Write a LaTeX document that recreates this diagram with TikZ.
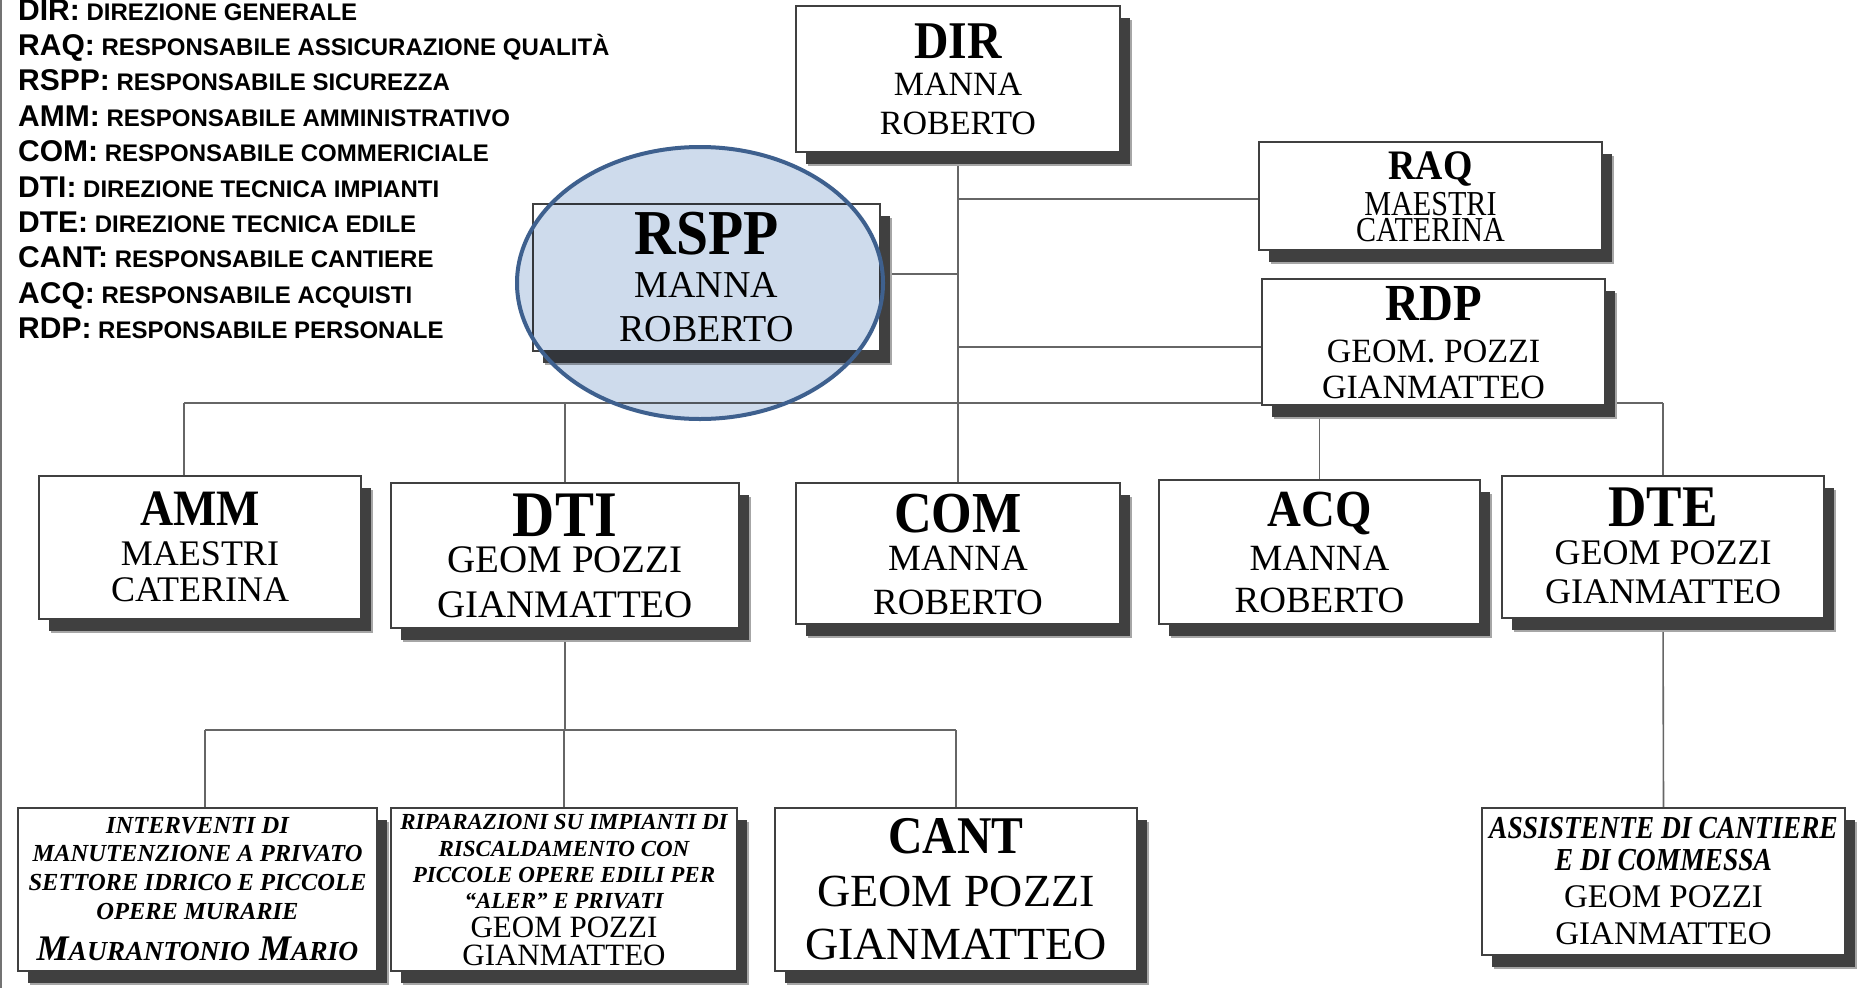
\documentclass[tikz,border=0pt]{standalone}
\usepackage{fontspec}
\setmainfont{Liberation Serif}
\newfontfamily\titlefam{Liberation Serif}[FakeStretch=0.9]
\newfontfamily\condfam{Liberation Serif}[FakeStretch=0.86]
\newfontfamily\legendfam{Liberation Sans}
\usetikzlibrary{shadows,backgrounds}
\pgfdeclarelayer{lines}
\pgfsetlayers{background,lines,main}
\newcommand{\boxline}[3]{\par\fontsize{#1bp}{#2bp}\selectfont{#3}\par}
\newcommand{\boxtext}[4]{\parbox[c][#2bp][t]{#1bp}{\centering\vspace*{#3bp}#4}}
\newcommand{\legendline}[2]{\fontsize{30bp}{35.4bp}\selectfont #1\fontsize{24bp}{35.4bp}\selectfont{} #2\par}
\definecolor{ellfill}{RGB}{206,219,236}
\definecolor{ellline}{RGB}{62,96,142}
\tikzset{
  orgbox/.style={draw=black!75, line width=1.3bp, fill=white, inner sep=0pt, outer sep=0pt,
    drop shadow={shadow xshift=12bp, shadow yshift=-14bp, fill=black!35, opacity=1},
    drop shadow={shadow xshift=10bp, shadow yshift=-12bp, fill=black!75, opacity=1}},
  link/.style={draw=black!60, line width=1.6bp},
}
\begin{document}
\begin{tikzpicture}[x=1bp,y=-1bp]
\useasboundingbox (0,0) rectangle (1857,988);
\begin{pgfonlayer}{background}
\fill[white] (0,0) rectangle (1857,988);
\end{pgfonlayer}
\draw[black!55, line width=1.5bp] (1,0) -- (1,988);

% legend
\node[anchor=base west, inner sep=0pt] (legend) at (18,20) {\parbox[t]{760bp}{\raggedright\legendfam\bfseries
\legendline{DIR:}{DIREZIONE GENERALE}
\legendline{RAQ:}{RESPONSABILE ASSICURAZIONE QUALITÀ}
\legendline{RSPP:}{RESPONSABILE SICUREZZA}
\legendline{AMM:}{RESPONSABILE AMMINISTRATIVO}
\legendline{COM:}{RESPONSABILE COMMERICIALE}
\legendline{DTI:}{DIREZIONE TECNICA IMPIANTI}
\legendline{DTE:}{DIREZIONE TECNICA EDILE}
\legendline{CANT:}{RESPONSABILE CANTIERE}
\legendline{ACQ:}{RESPONSABILE ACQUISTI}
\legendline{RDP:}{RESPONSABILE PERSONALE}}};

% boxes
\node[orgbox] (DIR) at (958,79) {\boxtext{324}{146}{17.5}{%
  \boxline{53}{55}{\titlefam\bfseries DIR}\boxline{34}{37.5}{MANNA}\boxline{34}{39}{ROBERTO}}};
\node[orgbox] (RAQ) at (1430.5,196) {\boxtext{343}{108}{10}{%
  \boxline{42}{44}{\titlefam\bfseries RAQ}\boxline{35}{35.5}{\condfam MAESTRI}\boxline{35}{26}{\condfam CATERINA}}};
\node[orgbox] (RSPP) at (706.5,277.5) {\boxtext{347}{147}{8}{%
  \boxline{64}{66}{\titlefam\bfseries RSPP}\boxline{38}{43.5}{MANNA}\boxline{38}{44}{ROBERTO}}};
\node[orgbox] (RDP) at (1433.5,342) {\boxtext{343}{126}{7}{%
  \boxline{52}{54}{\titlefam\bfseries RDP}\boxline{34}{42}{GEOM. POZZI}\boxline{34}{36}{GIANMATTEO}}};
\node[orgbox] (AMM) at (200,547.5) {\boxtext{322}{143}{16}{%
  \boxline{51}{53}{\titlefam\bfseries AMM}\boxline{36}{40}{MAESTRI}\boxline{36}{36}{CATERINA}}};
\node[orgbox] (DTI) at (565,555.5) {\boxtext{348}{145}{10.5}{%
  \boxline{65}{67}{\titlefam\bfseries DTI}\boxline{39}{36}{GEOM POZZI}\boxline{39}{45}{GIANMATTEO}}};
\node[orgbox] (COM) at (958,553.5) {\boxtext{324}{141}{11}{%
  \boxline{58}{60}{\titlefam\bfseries COM}\boxline{37}{38}{MANNA}\boxline{37}{44}{ROBERTO}}};
\node[orgbox] (ACQ) at (1319.5,552) {\boxtext{321}{144}{12}{%
  \boxline{52}{54}{\titlefam\bfseries ACQ}\boxline{37}{44}{MANNA}\boxline{37}{42}{ROBERTO}}};
\node[orgbox] (DTE) at (1663,547) {\boxtext{322}{142}{11.5}{%
  \boxline{59}{61}{\titlefam\bfseries DTE}\boxline{36}{38.5}{GEOM POZZI}\boxline{36}{39}{GIANMATTEO}}};
\node[orgbox] (B1) at (197.5,889.5) {\boxtext{359}{163}{9}{%
  \boxline{24.5}{28.7}{\bfseries\itshape INTERVENTI DI}%
  \boxline{24.5}{28.7}{\bfseries\itshape MANUTENZIONE A PRIVATO}%
  \boxline{24.5}{28.7}{\bfseries\itshape SETTORE IDRICO E PICCOLE}%
  \boxline{24.5}{28.7}{\bfseries\itshape OPERE MURARIE}%
  \boxline{36}{41}{\bfseries\itshape M{\fontsize{27.5bp}{41bp}\selectfont AURANTONIO} M{\fontsize{27.5bp}{41bp}\selectfont ARIO}}}};
\node[orgbox] (B2) at (564,889.5) {\boxtext{346}{163}{6.5}{%
  \boxline{23}{26.3}{\bfseries\itshape RIPARAZIONI SU IMPIANTI DI}%
  \boxline{23}{26.3}{\bfseries\itshape RISCALDAMENTO CON}%
  \boxline{23}{26.3}{\bfseries\itshape PICCOLE OPERE EDILI PER}%
  \boxline{23}{26.3}{\bfseries\itshape “ALER” E PRIVATI}%
  \boxline{31}{28.5}{GEOM POZZI}\boxline{31}{28}{GIANMATTEO}}};
\node[orgbox] (CANT) at (956,889.5) {\boxtext{362}{163}{10.5}{%
  \boxline{53}{55}{\titlefam\bfseries CANT}\boxline{46}{52.5}{GEOM POZZI}\boxline{46}{53}{GIANMATTEO}}};
\node[orgbox] (ASS) at (1663.5,881.5) {\boxtext{363}{147}{9}{%
  \boxline{32}{34}{\condfam\bfseries\itshape ASSISTENTE DI CANTIERE}%
  \boxline{32}{32}{\condfam\bfseries\itshape E DI COMMESSA}%
  \boxline{33}{37}{GEOM POZZI}\boxline{33}{37}{GIANMATTEO}}};

% connectors
\begin{pgfonlayer}{lines}
\coordinate (busL) at (184,403);
\coordinate (busR) at (1663,403);
\coordinate (busB) at (205,730);
\draw[link] (DIR.south) -- (COM.north);
\draw[link] ([yshift=-3bp]RAQ.west) -- ([yshift=-3bp]RAQ.west -| DIR.south);
\draw[link] ([yshift=3.5bp]RSPP.east) -- ([yshift=3.5bp]RSPP.east -| DIR.south);
\draw[link] ([yshift=-5bp]RDP.west) -- ([yshift=-5bp]RDP.west -| DIR.south);
\draw[link] (busL) -- (busR);
\draw[link] (busL) -- (busL |- AMM.north);
\draw[link] (DTI.north |- busL) -- (DTI.north);
\draw[link] (ACQ.north |- busL) -- (ACQ.north);
\draw[link] (busR) -- (DTE.north);
\draw[link] (DTE.south) -- (ASS.north);
\draw[link] (DTI.south) -- (DTI.south |- busB);
\draw[link] (busB) -- (busB -| CANT.north);
\draw[link] (busB) -- (busB |- B1.north);
\draw[link] (B2.north |- busB) -- (B2.north);
\draw[link] (CANT.north |- busB) -- (CANT.north);
\end{pgfonlayer}

% highlight ellipse
\begin{scope}[blend mode=multiply]
\fill[ellfill] (700,283) ellipse [x radius=183bp, y radius=136bp];
\end{scope}
\draw[draw=ellline, line width=4bp] (700,283) ellipse [x radius=183bp, y radius=136bp];
\end{tikzpicture}
\end{document}
